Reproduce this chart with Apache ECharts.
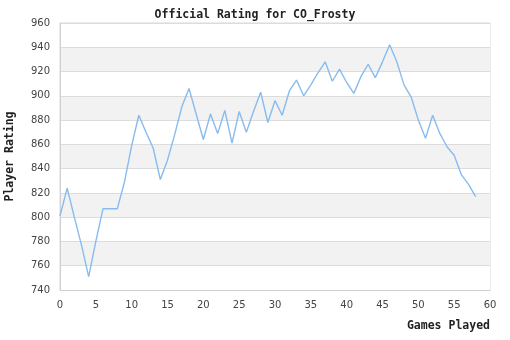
<!DOCTYPE html>
<html>
<head>
<meta charset="utf-8">
<script src="https://cdn.jsdelivr.net/npm/echarts@6/dist/echarts.min.js"></script>
<style>
  html, body { margin: 0; padding: 0; background: #fff; }
  #chart { width: 510px; height: 340px; }
</style>
</head>
<body>
<div id="chart"></div>
<script>
// Rating after each game played
const games = [];
for (let i = 0; i <= 58; i++) games.push(i);
const ratings = [
  801, 824, 800, 777, 751, 780, 807, 807, 807, 829,
  859, 884, 870, 857, 831, 847, 868, 891, 906, 885,
  864, 885, 869, 888, 861, 887, 870, 887, 903, 878,
  896, 884, 904, 913, 900, 909, 919, 928, 912, 922,
  911, 902, 916, 926, 915, 928, 942, 928, 909, 899,
  880, 865, 884, 869, 858, 851, 835, 827, 817
];
const chartTitle = 'Official Rating for CO_Frosty';
const xName = 'Games Played';
const yName = 'Player Rating';

const mono = '"DejaVu Sans Mono", monospace';
const chart = echarts.init(document.getElementById('chart'));
chart.setOption({
  animation: false,
  backgroundColor: '#fff',
  title: {
    text: chartTitle,
    left: 'center',
    top: 4,
    textStyle: { fontFamily: mono, fontSize: 11.5, fontWeight: 'bold', color: '#222' }
  },
  grid: {
    left: 60, right: 20, top: 23, bottom: 50,
    containLabel: false, outerBoundsMode: 'none',
    show: true, borderColor: '#d8d8d8', borderWidth: 1
  },
  xAxis: {
    type: 'value',
    min: 0, max: 60, interval: 5,
    name: xName,
    nameLocation: 'end',
    nameGap: 0,
    nameTextStyle: {
      fontFamily: mono, fontSize: 11.5, fontWeight: 'bold', color: '#222',
      align: 'right', verticalAlign: 'top', padding: [30, 0, 0, 0]
    },
    axisLine: { lineStyle: { color: '#d0d0d0' } },
    axisTick: { show: false },
    axisLabel: { fontFamily: '"DejaVu Sans", sans-serif', fontSize: 10, color: '#444', margin: 10 },
    splitLine: { show: false }
  },
  yAxis: {
    type: 'value',
    min: 740, max: 960, interval: 20,
    name: yName,
    nameLocation: 'middle',
    nameGap: 44,
    nameTextStyle: { fontFamily: mono, fontSize: 11.5, fontWeight: 'bold', color: '#222' },
    axisLine: { show: true, lineStyle: { color: '#d0d0d0' } },
    axisTick: { show: false },
    axisLabel: { fontFamily: '"DejaVu Sans", sans-serif', fontSize: 10, color: '#444', margin: 10 },
    splitLine: { show: true, lineStyle: { color: '#dcdcdc' } },
    splitArea: { show: true, areaStyle: { color: ['#ffffff', '#f2f2f2'] } }
  },
  series: [{
    type: 'line',
    data: games.map((g, i) => [g, ratings[i]]),
    showSymbol: false,
    lineStyle: { color: '#88bbee', width: 1.4 },
    itemStyle: { color: '#88bbee' }
  }]
});
</script>
</body>
</html>
